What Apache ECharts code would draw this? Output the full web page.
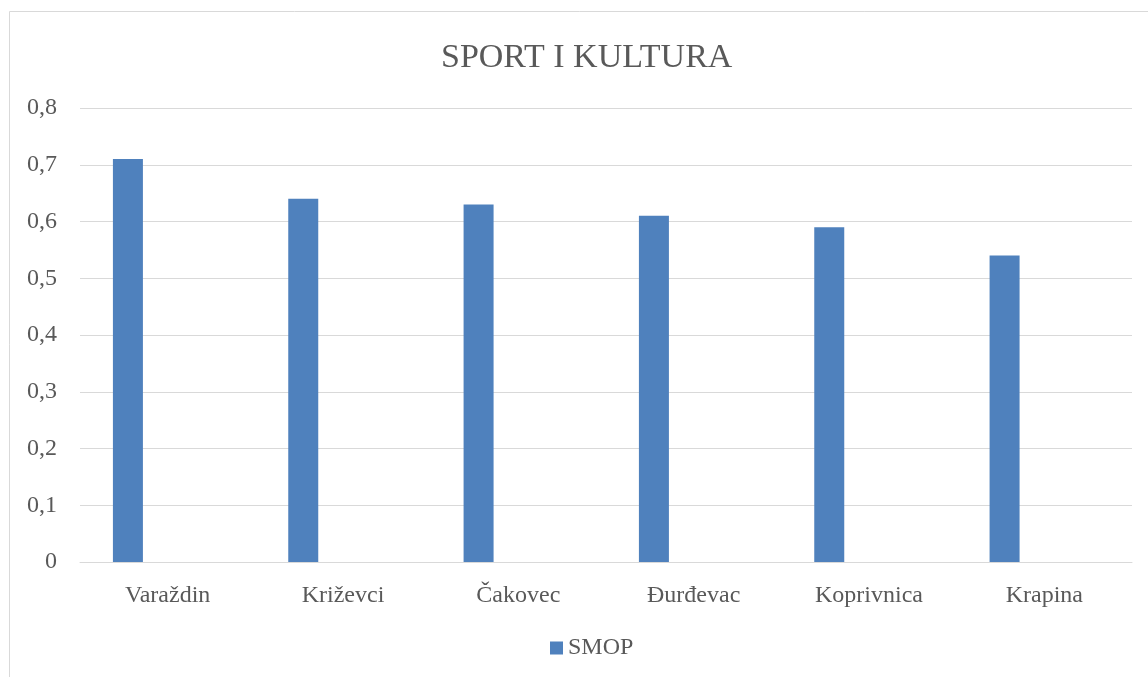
<!DOCTYPE html>
<html>
<head>
<meta charset="utf-8">
<script src="https://cdn.jsdelivr.net/npm/echarts@6/dist/echarts.min.js"></script>
<style>
  html, body { margin: 0; padding: 0; background: #fff; }
  #main { width: 1148px; height: 677px; }
</style>
</head>
<body>
<div id="main"></div>
<script>
// data
const categories = ['Varaždin', 'Križevci', 'Čakovec', 'Đurđevac', 'Koprivnica', 'Krapina'];
const smop = [0.71, 0.64, 0.63, 0.61, 0.59, 0.54];
const emptySeries = [null, null, null, null, null, null];

const font = 'Liberation Serif';
const textColor = '#595959';

let myChart = echarts.init(document.getElementById('main'));
let option = {
  animation: false,
  textStyle: { fontFamily: font },
  graphic: [
    {
      type: 'rect',
      shape: { x: 9.5, y: 11.5, width: 1300, height: 900 },
      style: { fill: 'none', stroke: '#d9d9d9', lineWidth: 1 },
      silent: true
    }
  ],
  title: {
    text: 'SPORT I KULTURA',
    left: 436,
    top: 36,
    textStyle: { fontFamily: font, fontSize: 34, fontWeight: 'normal', color: textColor }
  },
  legend: {
    data: ['SMOP'],
    bottom: 12,
    left: 545,
    icon: 'rect',
    itemWidth: 13,
    itemHeight: 13,
    itemGap: 6,
    textStyle: { fontFamily: font, fontSize: 24, color: textColor }
  },
  grid: {
    left: 80,
    right: 16,
    top: 108,
    bottom: 115,
    containLabel: false
  },
  xAxis: {
    type: 'category',
    data: categories,
    axisLine: { show: true, lineStyle: { color: '#d9d9d9', width: 1 } },
    axisTick: { show: false },
    axisLabel: { fontFamily: font, fontSize: 24, color: textColor, margin: 22 }
  },
  yAxis: {
    type: 'value',
    min: 0,
    max: 0.8,
    interval: 0.1,
    axisLine: { show: false },
    axisTick: { show: false },
    splitLine: { lineStyle: { color: '#d9d9d9', width: 1 } },
    axisLabel: {
      fontFamily: font,
      fontSize: 24,
      color: textColor,
      margin: 23,
      formatter: function (v) { return v === 0 ? '0' : v.toFixed(1).replace('.', ','); }
    }
  },
  series: [
    {
      name: 'SMOP',
      type: 'bar',
      data: smop,
      barWidth: 30,
      barGap: '165%',
      itemStyle: { color: '#4f81bd' }
    },
    {
      name: 'other',
      type: 'bar',
      data: emptySeries,
      barWidth: 30,
      itemStyle: { color: '#c0504d' }
    }
  ]
};
myChart.setOption(option);
window.onresize = function () {
  myChart.resize();
};
</script>
</body>
</html>
